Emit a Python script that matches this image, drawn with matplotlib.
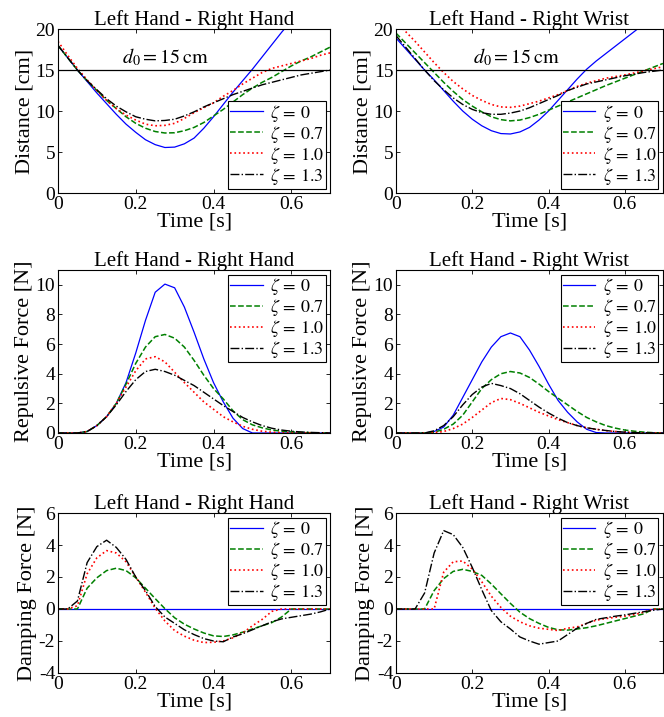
import matplotlib
matplotlib.use("Agg")
import matplotlib.pyplot as plt
import numpy as np

plt.rcParams['font.family'] = ['Liberation Serif', 'DejaVu Serif']
plt.rcParams['mathtext.fontset'] = 'stix'
plt.rcParams['axes.unicode_minus'] = False

# time grid [s], 0.025 s step
t = np.linspace(0, 0.7, 29)

zetas = ['0', '0.7', '1.0', '1.3']

# --- Distance [cm], Left Hand - Right Hand
dist_rh_z0 = [18.0, 16.5, 15.0, 13.6, 12.2, 10.9, 9.6, 8.4, 7.4, 6.5, 5.9, 5.55, 5.6, 6.0, 6.7,
              7.9, 9.3, 10.8, 12.3, 13.7, 15.1, 16.6, 18.1, 19.6, 21.0, 22.4, 23.8, 25.1, 26.4]
dist_rh_z07 = [18.0, 16.5, 15.0, 13.7, 12.5, 11.3, 10.3, 9.3, 8.5, 7.9, 7.5, 7.32, 7.35, 7.6, 8.0,
               8.6, 9.4, 10.2, 11.1, 12.0, 12.8, 13.5, 14.1, 14.8, 15.5, 16.1, 16.6, 17.2, 17.8]
dist_rh_z10 = [18.5, 16.8, 15.2, 13.8, 12.5, 11.3, 10.3, 9.5, 8.9, 8.4, 8.2, 8.25, 8.5, 9.1, 9.8,
               10.4, 11.0, 11.8, 12.5, 13.3, 14.0, 14.7, 15.2, 15.5, 15.8, 16.1, 16.4, 16.8, 17.1]
dist_rh_z13 = [18.0, 16.5, 15.0, 13.7, 12.6, 11.5, 10.6, 9.9, 9.3, 9.0, 8.8, 8.85, 9.0, 9.4, 9.9,
               10.5, 11.0, 11.5, 12.0, 12.4, 12.8, 13.2, 13.5, 13.8, 14.1, 14.4, 14.6, 14.8, 15.0]

# --- Distance [cm], Left Hand - Right Wrist
dist_rw_z0 = [18.9, 17.6, 16.3, 15.0, 13.8, 12.5, 11.2, 10.0, 9.0, 8.2, 7.6, 7.25, 7.2, 7.45, 8.0,
              8.9, 10.0, 11.3, 12.6, 13.9, 15.1, 16.1, 17.0, 17.9, 18.8, 19.7, 20.6, 21.5, 22.4]
dist_rw_z07 = [19.5, 18.3, 17.1, 15.9, 14.7, 13.5, 12.4, 11.4, 10.6, 9.9, 9.3, 8.95, 8.8, 8.9, 9.2,
               9.6, 10.1, 10.6, 11.1, 11.6, 12.1, 12.6, 13.1, 13.55, 14.0, 14.45, 14.9, 15.35, 15.8]
dist_rw_z10 = [20.8, 19.7, 18.5, 17.2, 15.9, 14.7, 13.6, 12.7, 11.9, 11.3, 10.8, 10.5, 10.45, 10.6, 10.9,
               11.2, 11.6, 12.0, 12.5, 13.0, 13.4, 13.7, 14.0, 14.2, 14.4, 14.65, 14.9, 15.15, 15.4]
dist_rw_z13 = [19.2, 17.8, 16.4, 15.0, 13.7, 12.6, 11.6, 10.8, 10.2, 9.8, 9.6, 9.6, 9.75, 10.0, 10.4,
               10.9, 11.4, 11.9, 12.5, 12.9, 13.3, 13.55, 13.8, 14.05, 14.3, 14.5, 14.7, 14.85, 15.0]

# --- Repulsive force [N], Left Hand - Right Hand
rep_rh_z0 = [0, 0, 0, 0.1, 0.5, 1.1, 2.0, 3.4, 5.4, 7.6, 9.5, 10.05, 9.8, 8.5, 6.8,
             5.0, 3.4, 2.1, 1.0, 0.3, 0, 0, 0, 0, 0, 0, 0, 0, 0]
rep_rh_z07 = [0, 0, 0, 0.1, 0.5, 1.1, 2.0, 3.3, 4.7, 5.8, 6.5, 6.65, 6.4, 5.8, 4.9,
              3.9, 3.0, 2.3, 1.5, 0.9, 0.55, 0.35, 0.2, 0.12, 0.07, 0.04, 0.02, 0, 0]
rep_rh_z10 = [0, 0, 0, 0.1, 0.5, 1.1, 2.0, 3.1, 4.2, 5.0, 5.15, 4.8, 4.1, 3.4, 2.75,
              2.1, 1.6, 1.1, 0.75, 0.45, 0.25, 0.12, 0.05, 0.02, 0, 0, 0, 0, 0]
rep_rh_z13 = [0, 0, 0, 0.1, 0.5, 1.1, 1.9, 2.8, 3.6, 4.15, 4.3, 4.15, 3.9, 3.55, 3.2,
              2.75, 2.3, 1.85, 1.45, 1.05, 0.75, 0.5, 0.32, 0.2, 0.12, 0.07, 0.04, 0.02, 0]

# --- Repulsive force [N], Left Hand - Right Wrist
rep_rw_z0 = [0, 0, 0, 0, 0.1, 0.4, 1.2, 2.4, 3.6, 4.8, 5.8, 6.5, 6.75, 6.5, 5.6,
             4.5, 3.3, 2.2, 1.4, 0.75, 0.25, 0.03, 0, 0, 0, 0, 0, 0, 0]
rep_rw_z07 = [0, 0, 0, 0, 0.05, 0.25, 0.6, 1.2, 2.1, 3.0, 3.6, 4.0, 4.15, 4.05, 3.75,
              3.3, 2.8, 2.35, 1.9, 1.45, 1.05, 0.75, 0.5, 0.33, 0.2, 0.12, 0.06, 0.02, 0]
rep_rw_z10 = [0, 0, 0, 0, 0.02, 0.1, 0.3, 0.6, 1.05, 1.55, 2.05, 2.33, 2.25, 2.0, 1.7,
              1.4, 1.15, 0.9, 0.7, 0.5, 0.35, 0.25, 0.16, 0.1, 0.05, 0.02, 0, 0, 0]
rep_rw_z13 = [0, 0, 0, 0, 0.15, 0.5, 1.1, 1.9, 2.6, 3.1, 3.35, 3.2, 3.0, 2.65, 2.2,
              1.75, 1.35, 1.0, 0.7, 0.5, 0.35, 0.25, 0.17, 0.1, 0.06, 0.03, 0.01, 0, 0]

# --- Damping force [N], Left Hand - Right Hand
damp_rh_z0 = [0] * 29
damp_rh_z07 = [0, 0, 0, 1.3, 1.95, 2.4, 2.55, 2.4, 1.95, 1.3, 0.65, 0.02, -0.55, -0.95, -1.25,
               -1.5, -1.68, -1.72, -1.62, -1.45, -1.25, -1.05, -0.85, -0.5, 0, 0, 0, 0, 0]
damp_rh_z10 = [0, 0, 0.2, 2.2, 3.2, 3.65, 3.5, 2.95, 2.0, 1.05, 0.05, -0.75, -1.35, -1.7, -1.95,
               -2.1, -2.08, -2.0, -1.8, -1.5, -1.05, -0.65, -0.15, 0, 0, 0, 0, 0, 0]
damp_rh_z13 = [0, 0, 0.5, 2.9, 3.9, 4.3, 3.85, 3.1, 2.0, 1.15, 0.15, -0.5, -0.9, -1.3, -1.6,
               -1.85, -2.0, -2.05, -1.75, -1.55, -1.3, -1.05, -0.8, -0.62, -0.52, -0.42, -0.32, -0.18, 0]

# --- Damping force [N], Left Hand - Right Wrist
damp_rw_z0 = [0] * 29
damp_rw_z07 = [0, 0, 0, 0, 1.15, 1.9, 2.35, 2.48, 2.35, 2.1, 1.56, 0.95, 0.35, -0.2, -0.6,
               -0.9, -1.15, -1.3, -1.32, -1.25, -1.17, -1.05, -0.9, -0.75, -0.6, -0.45, -0.3, 0, 0]
damp_rw_z10 = [0, 0, 0, 0, 0, 2.3, 2.95, 3.0, 2.5, 1.7, 0.8, 0.1, -0.45, -0.8, -1.05,
               -1.2, -1.27, -1.35, -1.2, -1.12, -0.9, -0.7, -0.6, -0.52, -0.45, -0.35, -0.2, 0, 0]
damp_rw_z13 = [0, 0, 0, 1.0, 3.5, 4.9, 4.65, 3.85, 2.6, 1.2, -0.1, -0.8, -1.25, -1.75, -2.0,
               -2.2, -2.1, -2.0, -1.6, -1.2, -0.9, -0.65, -0.55, -0.45, -0.37, -0.27, -0.17, -0.08, 0]

styles = [dict(color='#0000ff', ls='-', lw=0.9),
          dict(color='#008000', ls='--', lw=1.1),
          dict(color='#ff0000', ls=':', lw=1.2),
          dict(color='black', ls='-.', lw=1.0)]

fig = plt.figure(figsize=(6.64, 7.17), dpi=100)

col_x = [(0.0873, 0.410), (0.5964, 0.402)]
row_y = [(0.7308, 0.2287), (0.3961, 0.2273), (0.0614, 0.2231)]

panels = [
    (0, 0, 'Left Hand - Right Hand', [dist_rh_z0, dist_rh_z07, dist_rh_z10, dist_rh_z13]),
    (0, 1, 'Left Hand - Right Wrist', [dist_rw_z0, dist_rw_z07, dist_rw_z10, dist_rw_z13]),
    (1, 0, 'Left Hand - Right Hand', [rep_rh_z0, rep_rh_z07, rep_rh_z10, rep_rh_z13]),
    (1, 1, 'Left Hand - Right Wrist', [rep_rw_z0, rep_rw_z07, rep_rw_z10, rep_rw_z13]),
    (2, 0, 'Left Hand - Right Hand', [damp_rh_z0, damp_rh_z07, damp_rh_z10, damp_rh_z13]),
    (2, 1, 'Left Hand - Right Wrist', [damp_rw_z0, damp_rw_z07, damp_rw_z10, damp_rw_z13]),
]

ylabels = ['Distance [cm]', 'Repulsive Force [N]', 'Damping Force [N]']
ylims = [(0, 20), (0, 11), (-4, 6)]
yticks = [[0, 5, 10, 15, 20], [0, 2, 4, 6, 8, 10], [-4, -2, 0, 2, 4, 6]]
d0_x = [0.275, 0.315]

for r, c, title, series in panels:
    x0, w = col_x[c]
    y0, h = row_y[r]
    ax = fig.add_axes([x0, y0, w, h])
    for s, z, st in zip(series, zetas, styles):
        ax.plot(t, s, label=r'$\zeta\, =\, %s$' % z, **st)
    if r == 0:
        ax.axhline(15, color='black', lw=0.9)
        ax.text(d0_x[c], 15.25, r'$d_0 = 15\,\mathrm{cm}$', ha='center', va='bottom', fontsize=14.5)
    ax.set_xlim(0, 0.7)
    ax.set_ylim(*ylims[r])
    ax.set_xticks([0, 0.2, 0.4, 0.6])
    ax.set_xticklabels(['0', '0.2', '0.4', '0.6'])
    ax.set_yticks(yticks[r])
    ax.set_yticklabels([str(v) for v in yticks[r]])
    ax.tick_params(direction='in', top=True, right=True, length=3, width=0.6,
                   labelsize=14, pad=2)
    ax.set_title(title, fontsize=15, pad=3)
    ax.set_xlabel('Time [s]', fontsize=16, labelpad=0)
    ax.set_ylabel(ylabels[r], fontsize=16, labelpad=1)
    for sp in ax.spines.values():
        sp.set_linewidth(0.8)
    leg = ax.legend(loc='lower right' if r == 0 else 'upper right', fontsize=13,
                    frameon=True, fancybox=False, edgecolor='black', framealpha=1,
                    borderaxespad=0.25, borderpad=0.1, labelspacing=0.0,
                    handlelength=1.8, handletextpad=0.4)
    leg.get_frame().set_linewidth(0.8)

fig.savefig('out.png', dpi=100)
